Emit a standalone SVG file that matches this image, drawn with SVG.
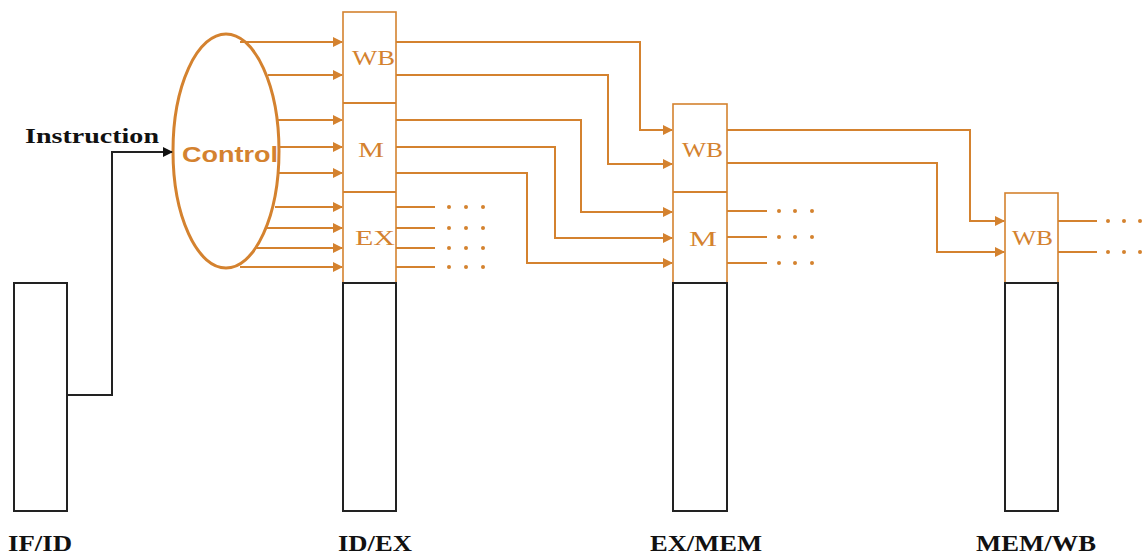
<svg xmlns="http://www.w3.org/2000/svg" width="1145" height="554" viewBox="0 0 1145 554">
<defs>
<style>
.o{stroke:#d4822f;stroke-width:2;fill:none}
.k{stroke:#222;stroke-width:2;fill:none}
.ob{stroke:#d4822f;stroke-width:1.6;fill:#fff}
.kb{stroke:#222;stroke-width:2;fill:#fff}
.t{font-family:"Liberation Serif",serif;fill:#d4822f;font-size:22px}
.lab{font-family:"Liberation Serif",serif;fill:#111;font-size:24px;font-weight:bold}
.dot{fill:#d4822f}
</style>
<marker id="ao" markerWidth="10" markerHeight="10" refX="9" refY="5" orient="auto" markerUnits="userSpaceOnUse">
<path d="M0,0 L10,5 L0,10 z" fill="#d4822f"/>
</marker>
<marker id="ak" markerWidth="10" markerHeight="10" refX="9" refY="5" orient="auto" markerUnits="userSpaceOnUse">
<path d="M0,0 L10,5 L0,10 z" fill="#111"/>
</marker>
</defs>
<rect width="1145" height="554" fill="#fff"/>

<g id="ifid">
<rect class="kb" x="14" y="283" width="53" height="228"/>
<text class="lab" x="8" y="551" textLength="64" lengthAdjust="spacingAndGlyphs">IF/ID</text>
</g>

<g id="idex">
<rect class="ob" x="343" y="12" width="53" height="271"/>
<line class="o" x1="343" y1="103" x2="396" y2="103"/>
<line class="o" x1="343" y1="192" x2="396" y2="192"/>
<rect class="kb" x="343" y="283" width="53" height="228"/>
<text class="t" x="352" y="65" textLength="43" lengthAdjust="spacingAndGlyphs">WB</text>
<text class="t" x="358" y="157" textLength="26" lengthAdjust="spacingAndGlyphs">M</text>
<text class="t" x="355" y="245" textLength="40" lengthAdjust="spacingAndGlyphs">EX</text>
<text class="lab" x="338" y="551" textLength="74" lengthAdjust="spacingAndGlyphs">ID/EX</text>
</g>

<g id="exmem">
<rect class="ob" x="673" y="104" width="54" height="179"/>
<line class="o" x1="673" y1="192" x2="727" y2="192"/>
<rect class="kb" x="673" y="283" width="54" height="228"/>
<text class="t" x="682" y="157" textLength="41" lengthAdjust="spacingAndGlyphs">WB</text>
<text class="t" x="689" y="246" textLength="28" lengthAdjust="spacingAndGlyphs">M</text>
<text class="lab" x="650" y="551" textLength="112" lengthAdjust="spacingAndGlyphs">EX/MEM</text>
</g>

<g id="memwb">
<rect class="ob" x="1005" y="193" width="53" height="90"/>
<rect class="kb" x="1005" y="283" width="53" height="228"/>
<text class="t" x="1012" y="245" textLength="41" lengthAdjust="spacingAndGlyphs">WB</text>
<text class="lab" x="976" y="551" textLength="120" lengthAdjust="spacingAndGlyphs">MEM/WB</text>
</g>

<g id="control">
<ellipse cx="226" cy="151" rx="53" ry="117" fill="#fff" stroke="#d4822f" stroke-width="3"/>
<text x="182" y="162" font-family="Liberation Sans,Arial,sans-serif" font-weight="bold" font-size="22" fill="#d4822f" textLength="96" lengthAdjust="spacingAndGlyphs">Control</text>
</g>

<g id="instruction">
<text x="25" y="143" font-family="Liberation Serif,serif" font-size="21" font-weight="bold" fill="#111" textLength="134" lengthAdjust="spacingAndGlyphs">Instruction</text>
</g>

<g id="connectors">
<polyline class="k" points="67,395 112,395 112,152 172,152" marker-end="url(#ak)"/>

<line class="o" x1="240" y1="42" x2="342" y2="42" marker-end="url(#ao)"/>
<line class="o" x1="268" y1="75" x2="342" y2="75" marker-end="url(#ao)"/>
<line class="o" x1="278" y1="120" x2="342" y2="120" marker-end="url(#ao)"/>
<line class="o" x1="280" y1="147" x2="342" y2="147" marker-end="url(#ao)"/>
<line class="o" x1="279" y1="173" x2="342" y2="173" marker-end="url(#ao)"/>
<line class="o" x1="275" y1="207" x2="342" y2="207" marker-end="url(#ao)"/>
<line class="o" x1="267" y1="228" x2="342" y2="228" marker-end="url(#ao)"/>
<line class="o" x1="256" y1="248" x2="342" y2="248" marker-end="url(#ao)"/>
<line class="o" x1="240" y1="267" x2="342" y2="267" marker-end="url(#ao)"/>

<polyline class="o" points="396,42 640,42 640,130 672,130" marker-end="url(#ao)"/>
<polyline class="o" points="396,75 608,75 608,164 672,164" marker-end="url(#ao)"/>
<polyline class="o" points="396,120 581,120 581,212 672,212" marker-end="url(#ao)"/>
<polyline class="o" points="396,147 555,147 555,238 672,238" marker-end="url(#ao)"/>
<polyline class="o" points="396,173 527,173 527,263 672,263" marker-end="url(#ao)"/>

<line class="o" x1="396" y1="207" x2="435" y2="207"/>
<line class="o" x1="396" y1="228" x2="435" y2="228"/>
<line class="o" x1="396" y1="248" x2="435" y2="248"/>
<line class="o" x1="396" y1="267" x2="435" y2="267"/>

<polyline class="o" points="727,130 970,130 970,221 1004,221" marker-end="url(#ao)"/>
<polyline class="o" points="727,163 937,163 937,252 1004,252" marker-end="url(#ao)"/>

<line class="o" x1="727" y1="211" x2="767" y2="211"/>
<line class="o" x1="727" y1="237" x2="767" y2="237"/>
<line class="o" x1="727" y1="263" x2="767" y2="263"/>

<line class="o" x1="1058" y1="221" x2="1097" y2="221"/>
<line class="o" x1="1058" y1="252" x2="1097" y2="252"/>
</g>

<g id="dots" class="dot">
<circle cx="449" cy="207" r="2"/><circle cx="466" cy="207" r="2"/><circle cx="483" cy="207" r="2"/>
<circle cx="449" cy="228" r="2"/><circle cx="466" cy="228" r="2"/><circle cx="483" cy="228" r="2"/>
<circle cx="449" cy="248" r="2"/><circle cx="466" cy="248" r="2"/><circle cx="483" cy="248" r="2"/>
<circle cx="449" cy="267" r="2"/><circle cx="466" cy="267" r="2"/><circle cx="483" cy="267" r="2"/>
<circle cx="779" cy="211" r="2"/><circle cx="795" cy="211" r="2"/><circle cx="812" cy="211" r="2"/>
<circle cx="779" cy="237" r="2"/><circle cx="795" cy="237" r="2"/><circle cx="812" cy="237" r="2"/>
<circle cx="779" cy="263" r="2"/><circle cx="795" cy="263" r="2"/><circle cx="812" cy="263" r="2"/>
<circle cx="1108" cy="221" r="2"/><circle cx="1124" cy="221" r="2"/><circle cx="1140" cy="221" r="2"/>
<circle cx="1108" cy="252" r="2"/><circle cx="1124" cy="252" r="2"/><circle cx="1140" cy="252" r="2"/>
</g>
</svg>
